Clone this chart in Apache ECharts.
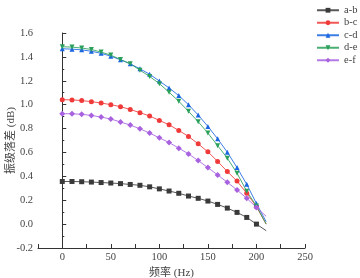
<!DOCTYPE html>
<html>
<head>
<meta charset="utf-8">
<script src="https://cdn.jsdelivr.net/npm/echarts@6/dist/echarts.min.js"></script>
<style>
  html, body { margin: 0; padding: 0; background: #fff; }
  #chart { width: 360px; height: 278px; }
</style>
</head>
<body>
<div id="chart"></div>
<script>
// frequency (Hz) - last point has no marker
const freqs = [0, 10, 20, 30, 40, 50, 60, 70, 80, 90, 100, 110, 120, 130, 140, 150, 160, 170, 180, 190, 200, 210]

const names = ['a-b', 'b-c', 'c-d', 'd-e', 'e-f']

const ab = [0.357, 0.357, 0.355, 0.352, 0.348, 0.344, 0.339, 0.332, 0.325, 0.312, 0.295, 0.277, 0.258, 0.235, 0.216, 0.193, 0.165, 0.134, 0.098, 0.056, 0.0, -0.055]
const bc = [1.042, 1.040, 1.034, 1.025, 1.014, 1.000, 0.983, 0.960, 0.933, 0.905, 0.868, 0.832, 0.784, 0.734, 0.672, 0.605, 0.525, 0.440, 0.360, 0.258, 0.146, 0.0]
const cd = [1.468, 1.465, 1.459, 1.447, 1.430, 1.406, 1.376, 1.342, 1.300, 1.255, 1.198, 1.140, 1.076, 1.000, 0.913, 0.818, 0.714, 0.602, 0.473, 0.333, 0.172, 0.02]
const de = [1.485, 1.482, 1.474, 1.462, 1.440, 1.415, 1.378, 1.342, 1.289, 1.236, 1.176, 1.104, 1.028, 0.944, 0.857, 0.762, 0.657, 0.552, 0.426, 0.275, 0.151, 0.0]
const ef = [0.924, 0.924, 0.919, 0.910, 0.896, 0.880, 0.855, 0.829, 0.798, 0.762, 0.722, 0.683, 0.636, 0.588, 0.532, 0.473, 0.412, 0.350, 0.286, 0.216, 0.140, 0.065]

const values  = [ab, bc, cd, de, ef]
const colors  = ['#3a3a3a', '#f03a3a', '#1a66e0', '#2aa05a', '#a862e0']
const symbols = ['rect', 'circle', 'triangle', 'triangle', 'diamond']
const rotates = [0, 0, 0, 180, 0]

const font = "'Liberation Serif', 'Noto Sans CJK SC', serif"

const chart = echarts.init(document.getElementById('chart'))

const series = names.map((n, i) => ({
  name: n,
  type: 'line',
  symbol: symbols[i],
  symbolRotate: rotates[i],
  symbolSize: i === 4 ? 6 : 5,
  showAllSymbol: true,
  itemStyle: { color: colors[i] },
  lineStyle: { color: colors[i], width: 1, opacity: 0.85 },
  emphasis: { disabled: true },
  data: freqs.map((f, j) => j === freqs.length - 1
    ? { value: [f, values[i][j]], symbol: 'none' }
    : [f, values[i][j]])
}))

chart.setOption({
  animation: false,
  textStyle: { fontFamily: font },
  grid: { left: 38, right: 55, top: 33, bottom: 30, outerBoundsMode: 'none', containLabel: false },
  legend: {
    orient: 'vertical',
    left: 311,
    top: 0,
    itemWidth: 22,
    itemHeight: 6,
    itemGap: 2,
    textStyle: { fontSize: 10.5, color: '#444', fontFamily: font, lineHeight: 10 },
    data: names
  },
  xAxis: {
    type: 'value',
    min: -25,
    max: 250,
    interval: 25,
    name: '频率 (Hz)',
    nameLocation: 'middle',
    nameGap: 20,
    nameMoveOverlap: false,
    nameTextStyle: { fontSize: 11, color: '#444', fontFamily: font },
    splitLine: { show: false },
    axisLine: { onZero: false, lineStyle: { color: '#333', width: 1 } },
    axisTick: { inside: true, length: 4, lineStyle: { color: '#333' } },
    axisLabel: {
      fontSize: 10.5, color: '#444', margin: 4, fontFamily: font,
      formatter: v => (v % 50 === 0 && v >= 0) ? String(v) : ''
    }
  },
  yAxis: {
    type: 'value',
    min: -0.2,
    max: 1.6,
    interval: 0.2,
    name: '振级落差 (dB)',
    nameLocation: 'middle',
    nameGap: 21,
    nameMoveOverlap: false,
    nameTextStyle: { fontSize: 11, color: '#444', fontFamily: font },
    splitLine: { show: false },
    axisLine: { show: true, lineStyle: { color: '#333', width: 1 } },
    axisTick: { inside: true, length: 4, lineStyle: { color: '#333' } },
    minorTick: { show: true, splitNumber: 2, length: 2, lineStyle: { color: '#333' } },
    axisLabel: {
      fontSize: 10.5, color: '#444', margin: 5, fontFamily: font,
      formatter: v => v.toFixed(1)
    }
  },
  series
})
</script>
</body>
</html>
